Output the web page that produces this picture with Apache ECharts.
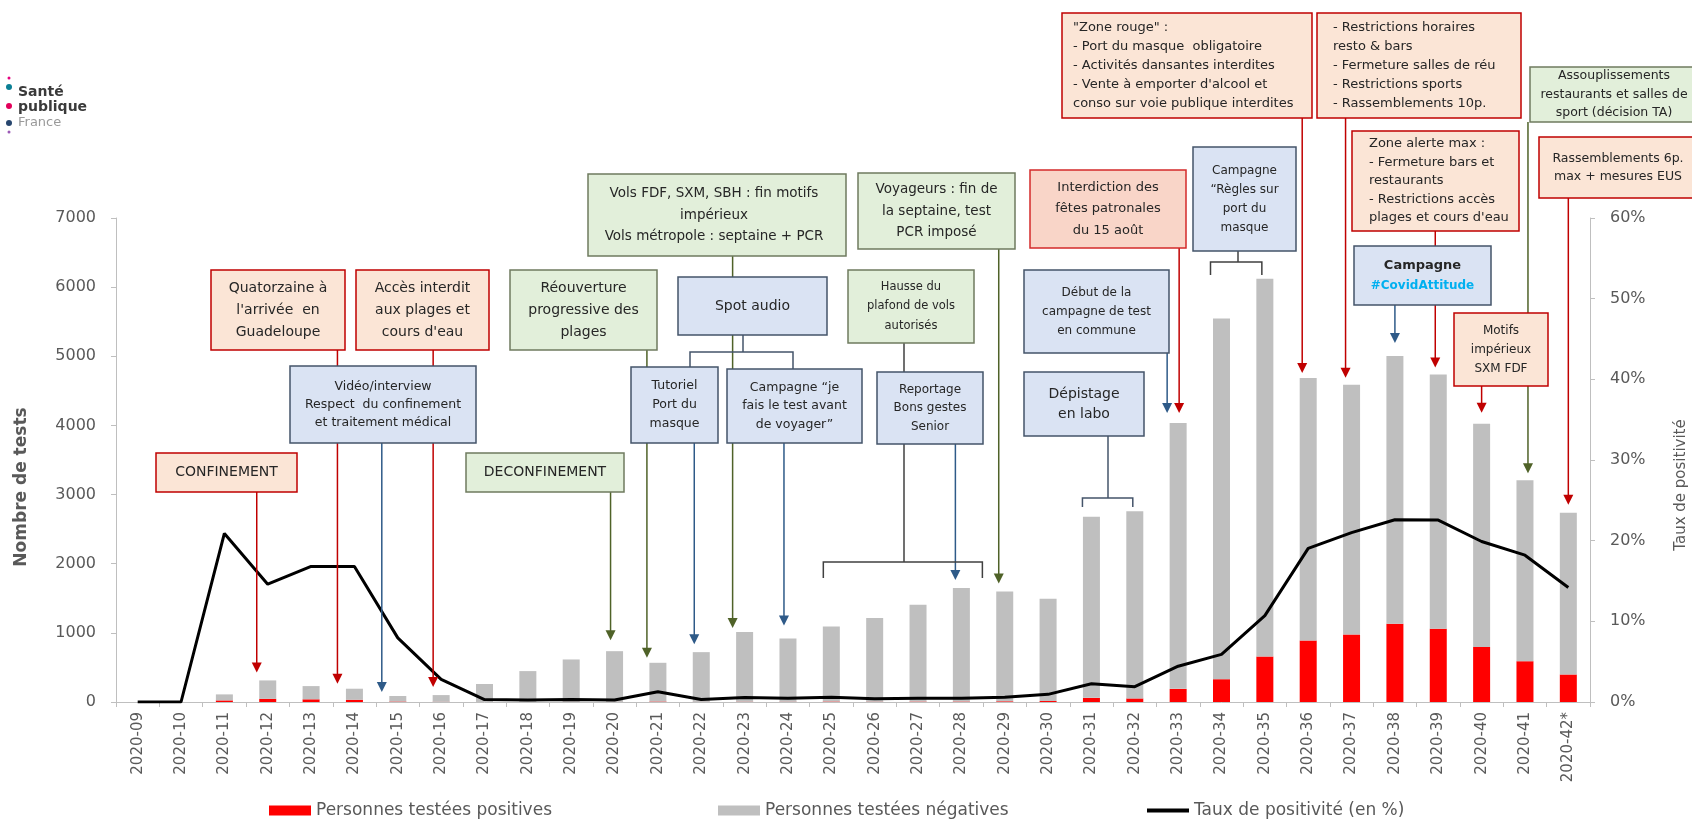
<!DOCTYPE html>
<html>
<head>
<meta charset="utf-8">
<title>Tests et taux de positivité</title>
<script src="https://cdn.jsdelivr.net/npm/echarts@6/dist/echarts.min.js"></script>
<style>
  html, body { margin: 0; padding: 0; background: #fff; }
  #chart { width: 1692px; height: 822px; }
</style>
</head>
<body>
<div id="chart"></div>
<script>
// semaines
const weeks = [
  '2020-09', '2020-10', '2020-11', '2020-12', '2020-13', '2020-14', '2020-15', '2020-16',
  '2020-17', '2020-18', '2020-19', '2020-20', '2020-21', '2020-22', '2020-23', '2020-24',
  '2020-25', '2020-26', '2020-27', '2020-28', '2020-29', '2020-30', '2020-31', '2020-32',
  '2020-33', '2020-34', '2020-35', '2020-36', '2020-37', '2020-38', '2020-39', '2020-40',
  '2020-41', '2020-42*'
]
const positives = [
  0, 0, 23, 46, 39, 32, 7, 3, 1, 1, 2, 2, 7, 2, 5, 4,
  7, 5, 6, 7, 10, 14, 60, 52, 190, 330, 658, 888, 975, 1133, 1061, 797,
  590, 398
]
const negatives = [
  0, 0, 87, 266, 191, 160, 80, 97, 259, 446, 613, 733, 560, 719, 1009, 914,
  1084, 1211, 1401, 1640, 1589, 1479, 2619, 2708, 3846, 5215, 5465, 3799, 3615, 3872, 3674, 3229,
  2617, 2338
]
// taux de positivité en %
const positivityRate = [
  0, 0, 20.9, 14.6, 16.8, 16.8, 7.95, 2.8, 0.3, 0.25, 0.3, 0.25, 1.28, 0.3, 0.55, 0.45,
  0.6, 0.4, 0.45, 0.45, 0.6, 0.95, 2.26, 1.9, 4.44, 5.9, 10.7, 19.05, 21.0, 22.6, 22.55, 19.9,
  18.2, 14.2
]

const FONT = "'DejaVu Sans', sans-serif"
const GREY_TXT = '#595959'

const chart = echarts.init(document.getElementById('chart'))

const legendText = { fontFamily: FONT, fontSize: 17, color: GREY_TXT }

const option = {
  animation: false,
  backgroundColor: '#fff',
  grid: { left: 116, right: 102, top: 218, bottom: 120 },
  legend: [
    { data: ['Personnes testées positives'], left: 264, top: 797, icon: 'rect', itemWidth: 42, itemHeight: 10, textStyle: legendText },
    { data: ['Personnes testées négatives'], left: 713, top: 797, icon: 'rect', itemWidth: 42, itemHeight: 10, textStyle: legendText },
    { data: ['Taux de positivité (en %)'], left: 1142, top: 797, icon: 'rect', itemWidth: 42, itemHeight: 4, textStyle: legendText },
  ],
  xAxis: {
    type: 'category',
    data: weeks,
    axisLine: { lineStyle: { color: '#bfbfbf' } },
    axisTick: { show: true, length: 5, lineStyle: { color: '#bfbfbf' } },
    axisLabel: { rotate: 90, margin: 10, fontFamily: FONT, fontSize: 15, color: GREY_TXT, interval: 0 },
  },
  yAxis: [
    {
      type: 'value', min: 0, max: 7000, interval: 1000,
      axisLine: { show: true, lineStyle: { color: '#bfbfbf' } },
      axisTick: { show: true, length: 5, lineStyle: { color: '#bfbfbf' } },
      axisLabel: { margin: 20, fontFamily: FONT, fontSize: 16, color: GREY_TXT, formatter: (v) => String(v) },
      splitLine: { show: false },
    },
    {
      type: 'value', min: 0, max: 60, interval: 10,
      axisLine: { show: true, lineStyle: { color: '#bfbfbf' } },
      axisTick: { show: true, length: 5, lineStyle: { color: '#bfbfbf' } },
      axisLabel: { margin: 20, fontFamily: FONT, fontSize: 16, color: GREY_TXT, formatter: '{value}%' },
      splitLine: { show: false },
    },
  ],
  series: [
    {
      name: 'Personnes testées positives',
      type: 'bar', stack: 'tests', barWidth: 17,
      itemStyle: { color: '#ff0000' },
      data: positives,
    },
    {
      name: 'Personnes testées négatives',
      type: 'bar', stack: 'tests', barWidth: 17,
      itemStyle: { color: '#bfbfbf' },
      data: negatives,
    },
    {
      name: 'Taux de positivité (en %)',
      type: 'line', yAxisIndex: 1, symbol: 'none', z: 5,
      lineStyle: { color: '#000', width: 3 },
      itemStyle: { color: '#000' },
      data: positivityRate,
    },
  ],
}

chart.setOption(option)

// ---- annotations ----
const kinds = {
  r: { fill: '#fbe5d6', stroke: '#c00000' },
  p: { fill: '#f9d5c8', stroke: '#d42a2a' },
  g: { fill: '#e2efda', stroke: '#6f7b5f' },
  b: { fill: '#dae3f3', stroke: '#44546a' },
}
const arrowColors = { r: '#c00000', b: '#2e5a88', g: '#4f6228', k: '#404040' }

const boxes = [
  { x: 156, y: 453, w: 141, h: 39, k: 'r', fs: 14, t: 'CONFINEMENT' },
  { x: 466, y: 453, w: 158, h: 39, k: 'g', fs: 14, t: 'DECONFINEMENT' },
  { x: 211, y: 270, w: 134, h: 80, k: 'r', fs: 14, lh: 22, t: "Quatorzaine à\nl'arrivée  en\nGuadeloupe" },
  { x: 356, y: 270, w: 133, h: 80, k: 'r', fs: 14, lh: 22, t: "Accès interdit\naux plages et\ncours d'eau" },
  { x: 510, y: 270, w: 147, h: 80, k: 'g', fs: 14, lh: 22, t: 'Réouverture\nprogressive des\nplages' },
  { x: 290, y: 366, w: 186, h: 77, k: 'b', fs: 12.5, lh: 18, t: 'Vidéo/interview\nRespect  du confinement\net traitement médical' },
  { x: 588, y: 174, w: 258, h: 82, k: 'g', fs: 13.5, lh: 21.5, cx: 714, t: 'Vols FDF, SXM, SBH : fin motifs\nimpérieux\nVols métropole : septaine + PCR' },
  { x: 678, y: 277, w: 149, h: 58, k: 'b', fs: 14, t: 'Spot audio' },
  { x: 631, y: 367, w: 87, h: 76, k: 'b', fs: 12.5, lh: 19, t: 'Tutoriel\nPort du\nmasque' },
  { x: 727, y: 369, w: 135, h: 74, k: 'b', fs: 12.5, lh: 18.5, t: 'Campagne “je\nfais le test avant\nde voyager”' },
  { x: 848, y: 270, w: 126, h: 73, k: 'g', fs: 11.5, lh: 19.5, t: 'Hausse du\nplafond de vols\nautorisés' },
  { x: 877, y: 372, w: 106, h: 72, k: 'b', fs: 12, lh: 18.5, t: 'Reportage\nBons gestes\nSenior' },
  { x: 858, y: 173, w: 157, h: 76, k: 'g', fs: 13.5, lh: 21.5, t: 'Voyageurs : fin de\nla septaine, test\nPCR imposé' },
  { x: 1030, y: 170, w: 156, h: 78, k: 'p', fs: 13, lh: 21.5, t: 'Interdiction des\nfêtes patronales\ndu 15 août' },
  { x: 1024, y: 270, w: 145, h: 83, k: 'b', fs: 12, lh: 19, t: 'Début de la\ncampagne de test\nen commune' },
  { x: 1024, y: 372, w: 120, h: 64, k: 'b', fs: 14, lh: 20, t: 'Dépistage\nen labo' },
  { x: 1193, y: 147, w: 103, h: 104, k: 'b', fs: 12, lh: 19, t: 'Campagne\n“Règles sur\nport du\nmasque' },
  { x: 1062, y: 13, w: 250, h: 105, k: 'r', fs: 13, lh: 19, align: 'left', pad: 11,
    t: '"Zone rouge" :\n- Port du masque  obligatoire\n- Activités dansantes interdites\n- Vente à emporter d\'alcool et\nconso sur voie publique interdites' },
  { x: 1317, y: 13, w: 204, h: 105, k: 'r', fs: 13, lh: 19, align: 'left', pad: 16,
    t: '- Restrictions horaires\nresto & bars\n- Fermeture salles de réu\n- Restrictions sports\n- Rassemblements 10p.' },
  { x: 1352, y: 131, w: 167, h: 100, k: 'r', fs: 13, lh: 18.5, align: 'left', pad: 17,
    t: 'Zone alerte max :\n- Fermeture bars et\nrestaurants\n- Restrictions accès\nplages et cours d\'eau' },
  { x: 1354, y: 246, w: 137, h: 59, k: 'b', rich: true },
  { x: 1454, y: 313, w: 94, h: 73, k: 'r', fs: 12, lh: 19, t: 'Motifs\nimpérieux\nSXM FDF' },
  { x: 1530, y: 67, w: 175, h: 55, k: 'g', fs: 12.5, lh: 18.5, cx: 1614, t: 'Assouplissements\nrestaurants et salles de\nsport (décision TA)' },
  { x: 1539, y: 137, w: 160, h: 61, k: 'r', fs: 12.5, lh: 18.5, cx: 1618, t: 'Rassemblements 6p.\nmax + mesures EUS' },
]

// arrows: target week, x offset from the bar, start y (bottom of the box), gap above the bar
const arrows = [
  { cat: '2020-12', dx: -11, y0: 492, c: 'r' },
  { cat: '2020-14', dx: -17, y0: 350, c: 'r', gap: 5 },
  { cat: '2020-15', dx: -16, y0: 443, c: 'b', gap: 4 },
  { cat: '2020-16', dx: -8, y0: 350, c: 'r' },
  { cat: '2020-20', dx: -4, y0: 492, c: 'g', gap: 11 },
  { cat: '2020-21', dx: -11, y0: 350, c: 'g', gap: 5 },
  { cat: '2020-22', dx: -7, y0: 443, c: 'b' },
  { cat: '2020-23', dx: -12, y0: 256, c: 'g', gap: 4 },
  { cat: '2020-24', dx: -4, y0: 443, c: 'b', gap: 13 },
  { cat: '2020-28', dx: -6, y0: 444, c: 'b' },
  { cat: '2020-29', dx: -6, y0: 249, c: 'g' },
  { cat: '2020-33', dx: -11, y0: 353, c: 'b', gap: 10 },
  { cat: '2020-33', dx: 1, y0: 248, c: 'r', gap: 10 },
  { cat: '2020-36', dx: -6, y0: 118, c: 'r', gap: 5 },
  { cat: '2020-37', dx: -6, y0: 118, c: 'r', gap: 7 },
  { cat: '2020-38', dx: 0, y0: 305, c: 'b', gap: 13 },
  { cat: '2020-39', dx: -3, y0: 231, c: 'r', gap: 7 },
  { cat: '2020-40', dx: 0, y0: 386, c: 'r', gap: 11 },
  { cat: '2020-41', dx: 3, y0: 122, c: 'g', gap: 7 },
  { cat: '2020-42*', dx: 0, y0: 198, c: 'r' },
]

const px = (c) => chart.convertToPixel({ xAxisIndex: 0 }, c)
const py = (v) => chart.convertToPixel({ yAxisIndex: 0 }, v)

const els = []

const line = (pts, color, w) => ({
  type: 'polyline', z: 10, silent: true,
  shape: { points: pts },
  style: { stroke: color, lineWidth: w || 1.5, fill: null },
})

arrows.forEach((a) => {
  const i = weeks.indexOf(a.cat)
  const x = px(a.cat) + a.dx
  const tip = py(positives[i] + negatives[i]) - (a.gap || 8)
  const col = arrowColors[a.c]
  els.push(line([[x, a.y0], [x, tip - 8]], col))
  els.push({
    type: 'polygon', z: 30, silent: true,
    shape: { points: [[x - 5, tip - 10], [x + 5, tip - 10], [x, tip]] },
    style: { fill: col },
  })
})

// brackets
const bk = arrowColors.k
els.push(line([[743, 335], [743, 352]], '#44546a'))
els.push(line([[690, 368], [690, 352], [793, 352], [793, 369]], '#44546a'))
els.push(line([[904, 343], [904, 372]], bk))
els.push(line([[904, 444], [904, 562]], bk))
els.push(line([[px('2020-25') - 8, 578], [px('2020-25') - 8, 562], [px('2020-28') + 21, 562], [px('2020-28') + 21, 578]], bk))
els.push(line([[1108, 436], [1108, 498]], '#44546a'))
els.push(line([[px('2020-31') - 9, 507], [px('2020-31') - 9, 498], [px('2020-32') - 2, 498], [px('2020-32') - 2, 507]], '#44546a'))
els.push(line([[1238, 251], [1238, 262]], bk))
els.push(line([[px('2020-34') - 11, 275], [px('2020-34') - 11, 262], [px('2020-35') - 3, 262], [px('2020-35') - 3, 275]], bk))

boxes.forEach((b) => {
  const k = kinds[b.k]
  els.push({
    type: 'rect', z: 20, silent: true,
    shape: { x: b.x, y: b.y, width: b.w, height: b.h },
    style: { fill: k.fill, stroke: k.stroke, lineWidth: 1.5 },
  })
  if (b.rich) {
    els.push({
      type: 'text', z: 21, silent: true,
      x: b.x + b.w / 2, y: b.y + b.h / 2,
      style: {
        text: '{a|Campagne}\n{b|#CovidAttitude}',
        align: 'center', verticalAlign: 'middle', textAlign: 'center', textVerticalAlign: 'middle',
        rich: {
          a: { fontFamily: FONT, fontSize: 13, fontWeight: 'bold', fill: '#262626', lineHeight: 20 },
          b: { fontFamily: FONT, fontSize: 12, fontWeight: 'bold', fill: '#00b0f0', lineHeight: 20 },
        },
      },
    })
    return
  }
  const left = b.align === 'left'
  els.push({
    type: 'text', z: 21, silent: true,
    x: left ? b.x + b.pad : (b.cx || b.x + b.w / 2),
    y: b.y + b.h / 2,
    style: {
      text: b.t,
      align: left ? 'left' : 'center', textAlign: left ? 'left' : 'center',
      verticalAlign: 'middle', textVerticalAlign: 'middle',
      fontFamily: FONT, fontSize: b.fs, lineHeight: b.lh || b.fs * 1.4,
      fill: '#262626',
    },
  })
})

// axis names
els.push({
  type: 'text', silent: true, x: 22, y: 487, rotation: Math.PI / 2,
  style: { text: 'Nombre de tests', align: 'center', verticalAlign: 'middle', textAlign: 'center', textVerticalAlign: 'middle',
    fontFamily: FONT, fontSize: 17, fontWeight: 'bold', fill: GREY_TXT },
})
els.push({
  type: 'text', silent: true, x: 1681, y: 485, rotation: Math.PI / 2,
  style: { text: 'Taux de positivité', align: 'center', verticalAlign: 'middle', textAlign: 'center', textVerticalAlign: 'middle',
    fontFamily: FONT, fontSize: 15, fill: GREY_TXT },
})

// logo Santé publique France
const dots = [[78, 1.5, '#e6007e'], [87, 3, '#0a7f94'], [106, 3, '#e2005a'], [123, 3, '#27466e'], [132, 1.5, '#9b59b6']]
dots.forEach((d) => els.push({ type: 'circle', silent: true, shape: { cx: 9, cy: d[0], r: d[1] }, style: { fill: d[2] } }))
const logo = [['Santé', 92, 'bold', 14, '#3a3a3a'], ['publique', 107, 'bold', 14, '#3a3a3a'], ['France', 123, 'normal', 13, '#9a9a9a']]
logo.forEach((l) => els.push({
  type: 'text', silent: true, x: 18, y: l[1],
  style: { text: l[0], verticalAlign: 'middle', textVerticalAlign: 'middle', fontFamily: FONT, fontWeight: l[2], fontSize: l[3], fill: l[4] },
}))

chart.setOption({ graphic: { elements: els } })
</script>
</body>
</html>
